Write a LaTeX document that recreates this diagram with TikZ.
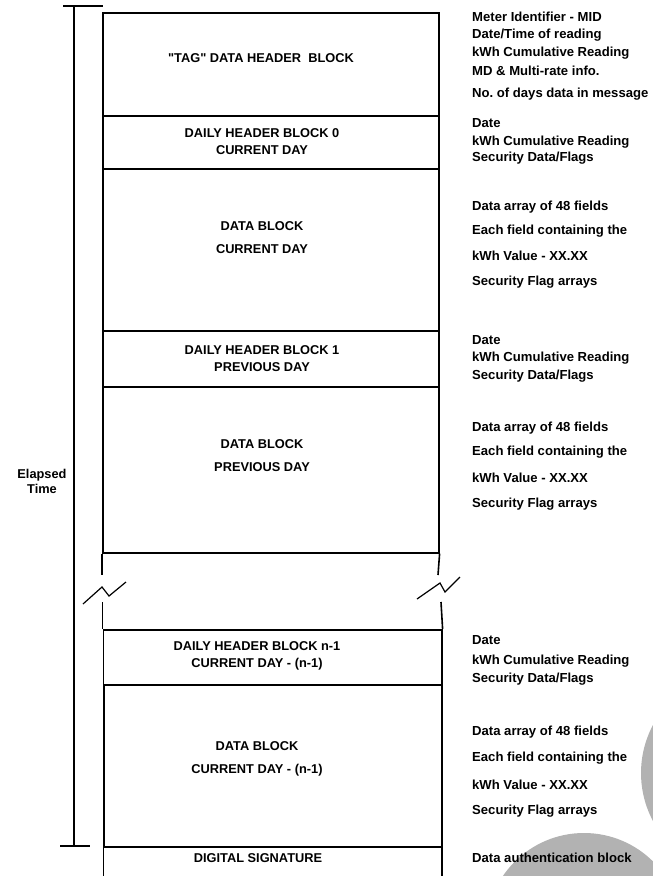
\documentclass[tikz,border=0pt]{standalone}
\usepackage{fontspec}
\setmainfont{Liberation Sans}
\usetikzlibrary{positioning}
\frenchspacing

\begin{document}
\begin{tikzpicture}[x=1pt, y=-1pt,
      block_box/.style={draw, line width=1.6pt, minimum width=336pt, anchor=north west, inner sep=0pt},
      block_text/.style={font=\fontsize{12.8}{15}\selectfont\bfseries, align=center, inner sep=0pt},
      info_text/.style={font=\fontsize{13.1}{15}\selectfont\bfseries, anchor=west, inner sep=0pt},
      edge_line/.style={line width=1.6pt},
      stain/.style={fill=black!30, draw=none}
    ]
      \clip (0,0) rectangle (653,876);
      \fill[stain] (743,773) circle (102pt);
      \fill[stain] (584,931) circle (98pt);

      % upper blocks
      \node[block_box, minimum height=103pt] (tag_blk) at (102,12) {};
      \node[block_box, minimum height=53pt] (dh0_blk) at (102,115) {};
      \node[block_box, minimum height=162pt] (db0_blk) at (102,168) {};
      \node[block_box, minimum height=56pt] (dh1_blk) at (102,330) {};
      \node[block_box, minimum height=166pt] (db1_blk) at (102,386) {};

      % lower blocks
      \node[block_box, minimum width=338.5pt, minimum height=55pt] (dhn_blk) at (102.5,629) {};
      \node[block_box, minimum width=338.5pt, minimum height=162pt, line width=2pt] (dbn_blk) at (102.5,684) {};
      \node[block_box, minimum width=338.5pt, minimum height=40pt] (sig_blk) at (102.5,846) {};

      % break marks
      \coordinate (brk_ul) at (102,575);
      \coordinate (brk_ur) at (438,575);
      \coordinate (brk_ll) at (102.5,602);
      \coordinate (brk_lr) at (441,602);
      \draw[edge_line] (db1_blk.south west) -- (brk_ul);
      \draw[edge_line] (db1_blk.south east) -- (brk_ur);
      \draw[edge_line] (brk_ll) -- (dhn_blk.north west);
      \draw[edge_line] (brk_lr) -- (dhn_blk.north east);
      \draw[line width=1.2pt] (83,604) -- (102,587) -- (109,596) -- (126,582);
      \draw[line width=1.2pt] (417,599) -- (440,583) -- (445,592) -- (460,577);

      % elapsed time bar
      \coordinate (et_top) at (74,6);
      \coordinate (et_bot) at (74,846);
      \coordinate (et_tl) at (63,6);
      \coordinate (et_tr) at (103,6);
      \coordinate (et_bl) at (60,846);
      \coordinate (et_br) at (90,846);
      \draw[edge_line] (et_top) -- (et_bot);
      \draw[edge_line] (et_tl) -- (et_tr);
      \draw[edge_line] (et_bl) -- (et_br);
      \node[block_text] (et_lbl) at (42,481) {Elapsed\\Time};

      % block labels
      \node[block_text] (tag_lbl) at (261,58) {\textquotedbl TAG\textquotedbl{} DATA HEADER\ \ BLOCK};
      \node[block_text] (dh0_lbl) at (262,142) {DAILY HEADER BLOCK 0\\[2pt]CURRENT DAY};
      \node[block_text] (db0_lbl) at (262,238) {DATA BLOCK\\[8pt]CURRENT DAY};
      \node[block_text] (dh1_lbl) at (262,359) {DAILY HEADER BLOCK 1\\[2pt]PREVIOUS DAY};
      \node[block_text] (db1_lbl) at (262,456) {DATA BLOCK\\[8pt]PREVIOUS DAY};
      \node[block_text] (dhn_lbl) at (257,656) {DAILY HEADER BLOCK n-1\\[2pt]CURRENT DAY - (n-1)};
      \node[block_text] (dbn_lbl) at (257,759) {DATA BLOCK\\[8pt]CURRENT DAY - (n-1)};
      \node[block_text] (sig_lbl) at (258,858) {DIGITAL SIGNATURE};

      % descriptions
      \node[info_text] (tag_i1) at (472,17) {Meter Identifier - MID};
      \node[info_text] (tag_i2) at (472,35) {Date/Time of reading};
      \node[info_text] (tag_i3) at (472,53) {kWh Cumulative Reading};
      \node[info_text] (tag_i4) at (472,71) {MD \& Multi-rate info.};
      \node[info_text] (tag_i5) at (472,94) {No. of days data in message};
      \node[info_text] (dh0_i1) at (472,123) {Date};
      \node[info_text] (dh0_i2) at (472,142) {kWh Cumulative Reading};
      \node[info_text] (dh0_i3) at (472,158) {Security Data/Flags};
      \node[info_text] (db0_i1) at (472,207) {Data array of 48 fields};
      \node[info_text] (db0_i2) at (472,231) {Each field containing the};
      \node[info_text] (db0_i3) at (472,256) {kWh Value - XX.XX};
      \node[info_text] (db0_i4) at (472,282) {Security Flag arrays};
      \node[info_text] (dh1_i1) at (472,340) {Date};
      \node[info_text] (dh1_i2) at (472,358) {kWh Cumulative Reading};
      \node[info_text] (dh1_i3) at (472,376) {Security Data/Flags};
      \node[info_text] (db1_i1) at (472,428) {Data array of 48 fields};
      \node[info_text] (db1_i2) at (472,452) {Each field containing the};
      \node[info_text] (db1_i3) at (472,478) {kWh Value - XX.XX};
      \node[info_text] (db1_i4) at (472,504) {Security Flag arrays};
      \node[info_text] (dhn_i1) at (472,640) {Date};
      \node[info_text] (dhn_i2) at (472,661) {kWh Cumulative Reading};
      \node[info_text] (dhn_i3) at (472,679) {Security Data/Flags};
      \node[info_text] (dbn_i1) at (472,732) {Data array of 48 fields};
      \node[info_text] (dbn_i2) at (472,758) {Each field containing the};
      \node[info_text] (dbn_i3) at (472,785) {kWh Value - XX.XX};
      \node[info_text] (dbn_i4) at (472,811) {Security Flag arrays};
      \node[info_text] (sig_i1) at (472,858) {Data authentication block};
    \end{tikzpicture}
\end{document}
